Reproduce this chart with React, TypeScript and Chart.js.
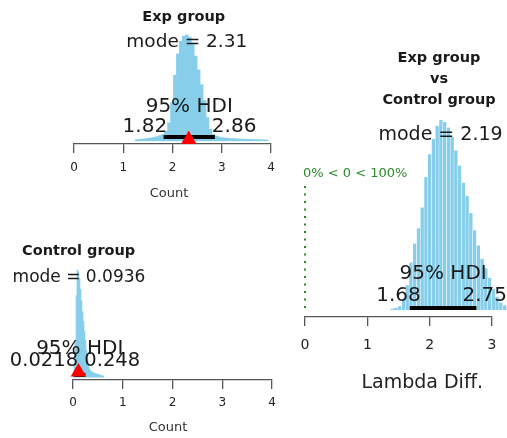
import React, { useEffect, useRef } from "react";
import { Chart, registerables } from "chart.js";

Chart.register(...registerables);

// ---------------- data ----------------
// Exp group posterior (bin centres, relative heights)
const expBinCenters = [
  1.27, 1.33, 1.39, 1.45, 1.51, 1.57, 1.63, 1.69, 1.75, 1.81, 1.87, 1.93, 1.99, 2.05, 2.11,
  2.17, 2.23, 2.29, 2.35, 2.41, 2.47, 2.53, 2.59, 2.65, 2.71, 2.77, 2.83, 2.89, 2.95, 3.01,
  3.07, 3.13, 3.19, 3.25, 3.31, 3.37, 3.43, 3.49, 3.55, 3.61, 3.67, 3.73, 3.79, 3.85, 3.91,
];
const expCounts = [
  1, 1.3, 1.6, 2, 2.4, 2.8, 3.3, 4, 5, 6, 9, 17, 36, 62, 82,
  94, 99, 100, 98, 91, 80, 67, 53, 38, 22, 11, 6, 4.5, 3.6, 3,
  2.7, 2.4, 2.2, 2, 1.8, 1.7, 1.6, 1.5, 1.4, 1.3, 1.2, 1.1, 1.0, 0.9, 0.8,
];
const expMode = 2.31;
const expHdi = [1.82, 2.86];
const expMarker = 2.33;

// Control group posterior
const ctlBinCenters = [
  0.01, 0.03, 0.05, 0.07, 0.09, 0.11, 0.13, 0.15, 0.17, 0.19, 0.21, 0.23, 0.25, 0.27, 0.29,
  0.31, 0.33, 0.35, 0.37, 0.39, 0.41, 0.43, 0.45, 0.47, 0.49, 0.51, 0.53, 0.55, 0.57, 0.59, 0.61,
];
const ctlCounts = [
  2, 10, 32, 76, 100, 98, 92, 82, 71, 61, 52, 43, 34, 25, 17,
  10, 7.5, 6, 5, 4.5, 4, 3.6, 3.2, 2.9, 2.6, 2.3, 2, 1.7, 1.4, 1.1, 0.8,
];
const ctlMode = 0.0936;
const ctlHdi = [0.0218, 0.248];
const ctlMarker = 0.11;

// Difference posterior
const diffBinCenters = [
  1.4, 1.46, 1.52, 1.58, 1.64, 1.7, 1.76, 1.82, 1.88, 1.94, 2.0, 2.06, 2.12, 2.18, 2.24, 2.3,
  2.36, 2.42, 2.48, 2.54, 2.6, 2.66, 2.72, 2.78, 2.84, 2.9, 2.96, 3.02, 3.08, 3.14, 3.2, 3.26,
];
const diffCounts = [
  0.8, 1.2, 2, 6, 13, 25, 35, 43, 54, 70, 82, 90, 97, 100, 99, 96,
  91, 84, 76, 67, 60, 51, 42, 34, 27, 22, 17, 11, 7, 4, 2.5, 1.5,
];
const diffMode = 2.19;
const diffHdi = [1.68, 2.75];
const compVal = 0;
const pctBelowComp = 0;
const pctAboveComp = 100;

const groupTicks = [0, 1, 2, 3, 4];
const diffTicks = [0, 1, 2, 3];

// ---------------- style ----------------
const FONT = "'DejaVu Sans', sans-serif";
const TXT = "#1a1a1a";
const BAR = "#87CEEB";
const GREEN = "#2a8a2a";
const AXIS = "#555555";
const TITLE_SIZE = 14.5;

type Label = {
  text: string;
  x: number;
  dy: number;
  size: number;
  bold?: boolean;
  align?: CanvasTextAlign;
  dx?: number;
  color?: string;
};

function labelPlugin(items: Label[]) {
  return {
    id: "panelLabels",
    afterDatasetsDraw(chart: any) {
      const { ctx, chartArea, scales } = chart;
      const xs = scales.x;
      ctx.save();
      for (const it of items) {
        ctx.font = `${it.bold ? "bold " : ""}${it.size}px ${FONT}`;
        ctx.fillStyle = it.color ?? TXT;
        ctx.textAlign = it.align ?? "center";
        ctx.textBaseline = "alphabetic";
        ctx.fillText(it.text, xs.getPixelForValue(it.x) + (it.dx ?? 0), chartArea.bottom + it.dy);
      }
      ctx.restore();
    },
  };
}

type Panel = {
  bins: number[];
  counts: number[];
  hdi: number[];
  hdiY: number;
  marker?: number;
  markerY?: number;
  ticks: number[];
  xMax: number;
  yMin: number;
  pad: { left: number; right: number; top: number };
  axisHeight: number;
  tickSize: number;
  tickPad: number;
  barBorder: number;
  comp?: { x: number; y0: number; y1: number };
  labels: Label[];
};

function makeChart(canvas: HTMLCanvasElement, p: Panel) {
  const datasets: any[] = [];
  if (p.marker !== undefined) {
    datasets.push({
      type: "line",
      data: [{ x: p.marker, y: p.markerY }],
      showLine: false,
      pointStyle: "triangle",
      pointRadius: 9,
      pointBackgroundColor: "#ff0000",
      pointBorderWidth: 0,
      clip: false,
      order: 0,
    });
  }
  datasets.push({
    type: "line",
    data: [
      { x: p.hdi[0], y: p.hdiY },
      { x: p.hdi[1], y: p.hdiY },
    ],
    borderColor: "#000000",
    borderWidth: 4,
    borderCapStyle: "butt",
    pointRadius: 0,
    clip: false,
    order: 1,
  });
  if (p.comp) {
    datasets.push({
      type: "line",
      data: [
        { x: p.comp.x, y: p.comp.y0 },
        { x: p.comp.x, y: p.comp.y1 },
      ],
      borderColor: GREEN,
      borderWidth: 2,
      borderDash: [2, 5.5],
      borderCapStyle: "butt",
      pointRadius: 0,
      clip: false,
      order: 2,
    });
  }
  datasets.push({
    type: "bar",
    data: p.bins.map((b, i) => ({ x: b, y: p.counts[i] })),
    backgroundColor: BAR,
    borderColor: "#ffffff",
    borderWidth: p.barBorder ? { left: p.barBorder, right: p.barBorder, top: 0, bottom: 0 } : 0,
    borderSkipped: false,
    barPercentage: 1,
    categoryPercentage: 1,
    clip: false,
    order: 3,
  });

  return new Chart(canvas, {
    type: "bar",
    data: { datasets },
    options: {
      animation: false,
      responsive: false,
      maintainAspectRatio: false,
      events: [],
      layout: { padding: { left: p.pad.left, right: p.pad.right, top: p.pad.top, bottom: 0 } },
      plugins: { legend: { display: false }, tooltip: { enabled: false }, title: { display: false } },
      scales: {
        x: {
          type: "linear",
          min: 0,
          max: p.xMax,
          offset: false,
          afterBuildTicks: (s: any) => {
            s.ticks = p.ticks.map((v) => ({ value: v }));
          },
          afterFit: (s: any) => {
            s.height = p.axisHeight;
          },
          grid: {
            offset: false,
            drawOnChartArea: false,
            drawTicks: true,
            tickLength: 9,
            color: AXIS,
            lineWidth: 1.3,
          },
          border: { display: true, color: AXIS, width: 1.3 },
          ticks: {
            padding: p.tickPad,
            autoSkip: false,
            maxRotation: 0,
            color: "#222222",
            font: { family: FONT, size: p.tickSize },
          },
          title: { display: false },
        },
        y: {
          type: "linear",
          display: false,
          min: p.yMin,
          max: 100,
          beginAtZero: false,
        },
      },
    } as any,
    plugins: [labelPlugin(p.labels)],
  });
}

const mid = (a: number[]) => (a[0] + a[1]) / 2;

export default function App() {
  const r1 = useRef<HTMLCanvasElement>(null);
  const r2 = useRef<HTMLCanvasElement>(null);
  const r3 = useRef<HTMLCanvasElement>(null);

  useEffect(() => {
    Chart.defaults.font.family = FONT;
    const charts: Chart[] = [];

    charts.push(
      makeChart(r1.current!, {
        bins: expBinCenters,
        counts: expCounts,
        hdi: expHdi,
        hdiY: 3.6,
        marker: expMarker,
        markerY: 1.2,
        ticks: groupTicks,
        xMax: 4,
        yMin: -3,
        pad: { left: 74, right: 19, top: 35 },
        axisHeight: 71,
        tickSize: 12,
        tickPad: 7.5,
        barBorder: 0,
        labels: [
          { text: "Exp group", x: expMode, dx: -4, dy: -123, size: TITLE_SIZE, bold: true },
          { text: `mode = ${expMode}`, x: expMode, dx: -1, dy: -97, size: 18.5 },
          { text: "95% HDI", x: mid(expHdi), dy: -32, size: 20 },
          { text: String(expHdi[0]), x: expHdi[0], dx: 3.5, dy: -12, size: 20, align: "right" },
          { text: String(expHdi[1]), x: expHdi[1], dx: -3, dy: -12, size: 20, align: "left" },
          { text: "Count", x: 1.93, dy: 52.5, size: 13, color: "#333333" },
        ],
      })
    );

    charts.push(
      makeChart(r2.current!, {
        bins: ctlBinCenters,
        counts: ctlCounts,
        hdi: ctlHdi,
        hdiY: 2,
        marker: ctlMarker,
        markerY: 4.7,
        ticks: groupTicks,
        xMax: 4,
        yMin: -2.8,
        pad: { left: 73, right: 18, top: 55 },
        axisHeight: 58,
        tickSize: 12,
        tickPad: 6.5,
        barBorder: 0,
        labels: [
          { text: "Control group", x: ctlMode, dx: 1, dy: -125, size: TITLE_SIZE, bold: true },
          { text: `mode = ${ctlMode}`, x: ctlMode, dx: 1.3, dy: -98, size: 17 },
          { text: "95% HDI", x: mid(ctlHdi), dy: -26, size: 20 },
          { text: String(ctlHdi[0]), x: ctlHdi[0], dx: 4, dy: -14, size: 19.5, align: "right" },
          { text: String(ctlHdi[1]), x: ctlHdi[1], dx: -1, dy: -14, size: 19.5, align: "left" },
          { text: "Count", x: 1.91, dy: 51, size: 13, color: "#333333" },
        ],
      })
    );

    charts.push(
      makeChart(r3.current!, {
        bins: diffBinCenters,
        counts: diffCounts,
        hdi: diffHdi,
        hdiY: 1,
        ticks: diffTicks,
        xMax: 3,
        yMin: -3.68,
        pad: { left: 15, right: 12, top: 120 },
        axisHeight: 121,
        tickSize: 14,
        tickPad: 10.5,
        barBorder: 0.5,
        comp: { x: compVal, y0: 1, y1: 68 },
        labels: [
          { text: "Exp group", x: diffMode, dx: -2.5, dy: -255, size: TITLE_SIZE, bold: true },
          { text: "vs", x: diffMode, dx: -2.5, dy: -234, size: TITLE_SIZE, bold: true },
          { text: "Control group", x: diffMode, dx: -2.5, dy: -213, size: TITLE_SIZE, bold: true },
          { text: `mode = ${diffMode}`, x: diffMode, dx: -1, dy: -177, size: 19 },
          {
            text: `${pctBelowComp}% < ${compVal} < ${pctAboveComp}%`,
            x: compVal,
            dx: -2,
            dy: -140,
            size: 13,
            color: GREEN,
            align: "left",
          },
          { text: "95% HDI", x: mid(diffHdi), dy: -38, size: 20 },
          { text: String(diffHdi[0]), x: diffHdi[0], dx: 11, dy: -16, size: 20, align: "right" },
          { text: String(diffHdi[1]), x: diffHdi[1], dx: -14, dy: -16, size: 20, align: "left" },
          { text: "Lambda Diff.", x: 1.88, dy: 71, size: 19, color: "#222222" },
        ],
      })
    );

    return () => {
      charts.forEach((c) => c.destroy());
    };
  }, []);

  return (
    <div
      style={{
        position: "fixed",
        left: 0,
        top: 0,
        width: 507,
        height: 438,
        overflow: "hidden",
        background: "#ffffff",
      }}
    >
      <canvas ref={r1} width={290} height={215} style={{ position: "absolute", left: 0, top: 0 }} />
      <canvas ref={r2} width={290} height={223} style={{ position: "absolute", left: 0, top: 215 }} />
      <canvas ref={r3} width={217} height={438} style={{ position: "absolute", left: 290, top: 0 }} />
    </div>
  );
}
